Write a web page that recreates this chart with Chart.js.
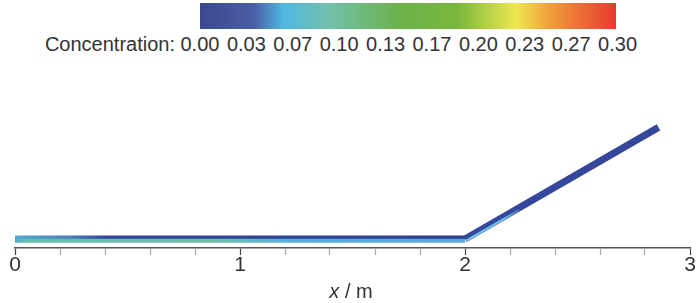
<!DOCTYPE html>
<html>
<head>
<meta charset="utf-8">
<script src="https://cdn.jsdelivr.net/npm/chart.js"></script>
<style>
  html, body { margin: 0; padding: 0; background: #fff; }
  #wrap { position: relative; width: 700px; height: 303px; font-family: "Liberation Sans", Arial, sans-serif; color: #333; }
  #bar { position: absolute; left: 200px; top: 3px; width: 416px; height: 26px;
    background: linear-gradient(to right, #3a4890 0%, #4a5ea6 13%, #50b8e4 20%, #72c0aa 31%, #6cb24c 48%, #7ab83c 62%, #c4d84a 71%, #ece650 76%, #f2a03c 84%, #ec6a34 92%, #e8392f 100%); }
  #conc { position: absolute; top: 33px; left: 0; width: 700px; height: 26px; font-size: 20px; }
  #conc span { position: absolute; top: 0; white-space: nowrap; }
  #xtitle { position: absolute; left: 0; width: 702px; top: 280px; text-align: center; font-size: 20px; color: #333; }
  canvas { position: absolute; left: 0; top: 0; }
</style>
</head>
<body>
<div id="wrap">
  <div id="bar"></div>
  <div id="conc"></div>
  <canvas id="chart" width="700" height="303"></canvas>
  <div id="xtitle"><i>x</i> / m</div>
</div>
<script>
// colour bar labels
const concTicks = ['0.00', '0.03', '0.07', '0.10', '0.13', '0.17', '0.20', '0.23', '0.27', '0.30'];
const concLabel = 'Concentration:';

// channel: flat bed 0-2 m, then a 30 degree slope
const flatX = [0, 2];
const upperY = [0.048, 0.048];
const lowerY = [0.032, 0.032];
const slopeX = [2, 2.86];
const slopeY = [0.040, 0.535];
const edgeX = [2.005, 2.24];
const edgeY = [0.032, 0.168];

document.addEventListener('DOMContentLoaded', () => {
    const conc = document.getElementById('conc');
    const lab = document.createElement('span');
    lab.textContent = concLabel;
    lab.style.right = (700 - 175) + 'px';
    conc.appendChild(lab);
    concTicks.forEach((t, i) => {
        const s = document.createElement('span');
        s.textContent = t;
        conc.appendChild(s);
        const c = 200 + i * 46.4;
        s.style.left = (c - s.offsetWidth / 2) + 'px';
    });

    const toPts = (xs, ys) => xs.map((x, i) => ({ x: x, y: ys[i] }));

    // horizontal gradient along the x scale
    const grad = (stops, from, to) => (context) => {
        const chart = context.chart;
        if (!chart.chartArea) return '#34479a';
        const sx = chart.scales.x;
        const x0 = sx.getPixelForValue(from), x1 = sx.getPixelForValue(to);
        const g = chart.ctx.createLinearGradient(x0, 0, x1, 0);
        stops.forEach(s => g.addColorStop(s[0], s[1]));
        return g;
    };

    const isMajor = v => Math.abs(v - Math.round(v)) < 1e-6;

    const ctx = document.getElementById('chart').getContext('2d');
    new Chart(ctx, {
        type: 'scatter',
        data: {
            datasets: [
                {
                    data: toPts(edgeX, edgeY),
                    borderColor: grad([[0, '#6cc4e8'], [0.7, '#6cc4e8'], [1, '#4a70b8']], 2, 2.24),
                    borderWidth: 2.2
                },
                {
                    data: toPts(slopeX, slopeY),
                    borderColor: '#34479a',
                    borderWidth: 7
                },
                {
                    data: toPts(flatX, lowerY),
                    borderColor: grad([[0, '#52acd8'], [0.02, '#66bcb0'], [0.45, '#6cc0a8'], [0.6, '#5aaed6'], [1, '#58a8d8']], 0, 2),
                    borderWidth: 4
                },
                {
                    data: toPts(flatX, upperY),
                    borderColor: grad([[0, '#52acd8'], [0.03, '#4e9ccc'], [0.12, '#4a80bc'], [0.2, '#33449a'], [1, '#2f3f90']], 0, 2),
                    borderWidth: 3.5
                }
            ]
        },
        options: {
            responsive: false,
            animation: false,
            events: [],
            layout: { padding: { left: 15, right: 10, top: 80, bottom: 27 } },
            elements: {
                point: { radius: 0 },
                line: { borderCapStyle: 'butt', borderJoinStyle: 'miter', tension: 0 }
            },
            datasets: { scatter: { showLine: true } },
            scales: {
                x: {
                    type: 'linear',
                    min: 0,
                    max: 3,
                    ticks: {
                        stepSize: 0.2,
                        autoSkip: false,
                        maxRotation: 0,
                        padding: 0,
                        color: '#333',
                        font: { family: 'Liberation Sans', size: 21, lineHeight: 1 },
                        callback: v => isMajor(v) ? String(Math.round(v)) : ''
                    },
                    grid: {
                        drawOnChartArea: false,
                        tickLength: 7,
                        tickWidth: 1.2,
                        tickColor: c => isMajor(c.tick.value) ? '#444' : '#aaa'
                    },
                    border: { display: true, color: '#555', width: 1.5 }
                },
                y: {
                    display: false,
                    min: 0,
                    max: 0.745
                }
            },
            plugins: {
                legend: { display: false },
                tooltip: { enabled: false },
                title: { display: false }
            }
        }
    });
});
</script>
</body>
</html>
